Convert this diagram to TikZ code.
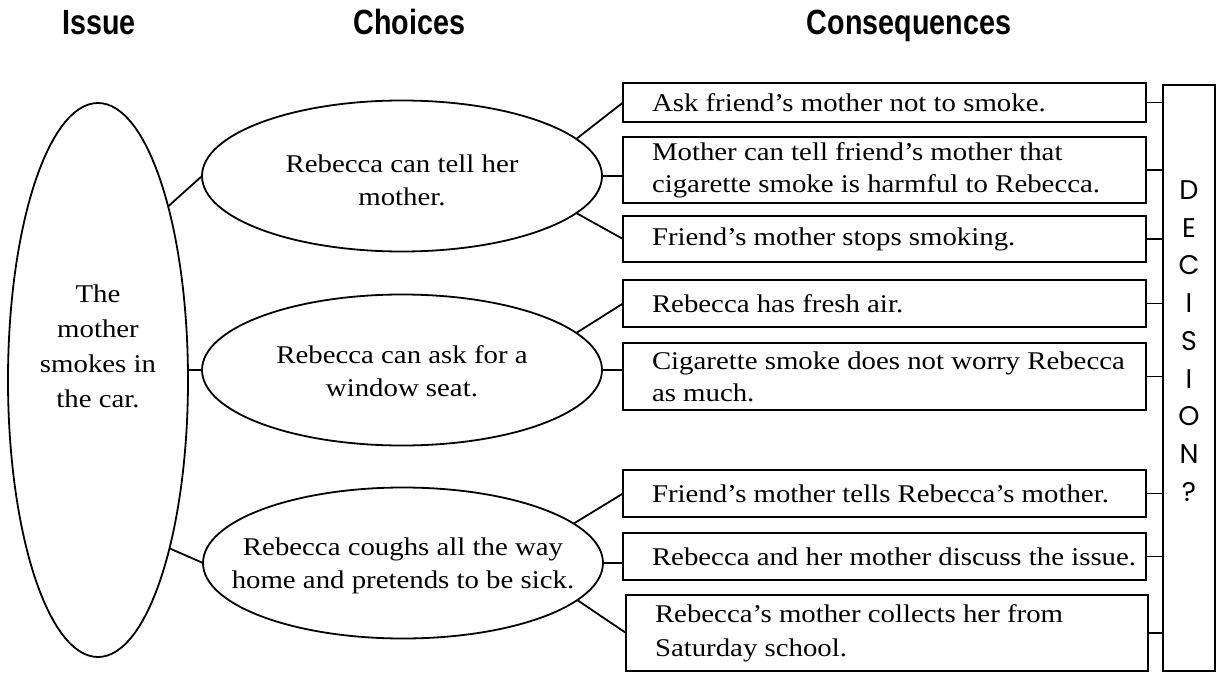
\documentclass[tikz,border=0pt]{standalone}
\usepackage{fontspec}
\setmainfont[FakeStretch=1.13]{Liberation Serif}
\newfontfamily\hdrfont[FakeStretch=0.82]{Liberation Sans Bold}
\newfontfamily\decfont{Poppins}
\usetikzlibrary{shapes.geometric}
\begin{document}
\begin{tikzpicture}[x=1pt,y=-1pt,
  every node/.style={inner sep=0pt, outer sep=0pt},
  issueell/.style={ellipse, draw, line width=1.8pt, minimum width=180pt, minimum height=554pt},
  choiceell/.style={ellipse, draw, line width=1.8pt, minimum width=400pt, minimum height=151pt},
  cbox/.style={rectangle, draw, line width=2.2pt, minimum width=523pt},
  dbox/.style={rectangle, draw, line width=2pt, minimum width=52pt, minimum height=586pt},
  body/.style={font=\fontsize{25.5}{33}\selectfont, align=center},
  ctext/.style={font=\fontsize{25.5}{32}\selectfont, align=left, anchor=west},
  hdr/.style={font=\hdrfont\fontsize{35}{40}\selectfont, anchor=base},
  link/.style={line width=1.8pt},
]
\useasboundingbox (0,0) rectangle (1217,674);

% headers
\node[hdr] (hIssue) at (99,35) {Issue};
\node[hdr] (hChoices) at (409.5,35) {Choices};
\node[hdr] (hCons) at (909,35) {Consequences};

% issue
\node[issueell] (iss) at (98,380) {};
\node[body, font=\fontsize{25.5}{35}\selectfont] (isst) at (98,346) {The\\mother\\smokes in\\the car.};

% choices
\node[choiceell] (c1) at (402,176) {};
\node[body] (c1t) at (402,180) {Rebecca can tell her\\mother.};
\node[choiceell] (c2) at (402,370) {};
\node[body] (c2t) at (402,371) {Rebecca can ask for a\\window seat.};
\node[choiceell] (c3) at (403,563) {};
\node[body] (c3t) at (403,566) {Rebecca coughs all the way\\home and pretends to be sick.};

% consequences
\node[cbox, minimum height=39pt] (b1) at (884.5,102.5) {};
\node[cbox, minimum height=66pt] (b2) at (884.5,170) {};
\node[cbox, minimum height=46pt] (b3) at (884.5,239) {};
\node[cbox, minimum height=47pt] (b4) at (884.5,303.5) {};
\node[cbox, minimum height=67pt] (b5) at (884.5,376.5) {};
\node[cbox, minimum height=47pt] (b6) at (884.5,493.5) {};
\node[cbox, minimum height=47pt] (b7) at (884.5,556.5) {};
\node[cbox, minimum width=522pt, minimum height=76pt] (b8) at (887,633) {};

\node[ctext] (b1t) at ([xshift=29pt]b1.west) {Ask friend’s mother not to smoke.};
\node[ctext] (b2t) at ([xshift=29pt]b2.west) {Mother can tell friend’s mother that\\cigarette smoke is harmful to Rebecca.};
\node[ctext] (b3t) at ([xshift=29pt]b3.west) {Friend’s mother stops smoking.};
\node[ctext] (b4t) at ([xshift=29pt]b4.west) {Rebecca has fresh air.};
\node[ctext] (b5t) at ([xshift=29pt]b5.west) {Cigarette smoke does not worry Rebecca\\as much.};
\node[ctext] (b6t) at ([xshift=29pt]b6.west) {Friend’s mother tells Rebecca’s mother.};
\node[ctext] (b7t) at ([xshift=29pt]b7.west) {Rebecca and her mother discuss the issue.};
\node[ctext, font=\fontsize{25.5}{34}\selectfont] (b8t) at ([xshift=29pt]b8.west) {Rebecca’s mother collects her from\\Saturday school.};

% decision
\node[dbox] (dec) at (1189,378) {};
\node[font=\decfont\fontsize{27}{37.75}\selectfont, align=center] (dect) at (1189,341) {D\\E\\C\\I\\S\\I\\O\\N\\?};

% links issue -> choices
\draw[link] (iss.68.5) -- (c1.west);
\draw[link] (c2.west) -- (c2.west -| iss.east);
\draw[link] (iss.-67.6) -- (c3.west);

% links choices -> consequences
\draw[link] (c1.12) -- (b1.west);
\draw[link] (c1.east) -- (c1.east -| b2.west);
\draw[link] (c1.-12) -- (b3.west);
\draw[link] (c2.12.5) -- (b4.west);
\draw[link] (c2.east) -- (c2.east -| b5.west);
\draw[link] (c3.13) -- (b6.west);
\draw[link] (c3.east) -- (c3.east -| b7.west);
\draw[link] (c3.-12.5) -- (b8.west);

% links consequences -> decision
\draw[link] (b1.east) -- (b1.east -| dec.west);
\draw[link] (b2.east) -- (b2.east -| dec.west);
\draw[link] (b3.east) -- (b3.east -| dec.west);
\draw[link] (b4.east) -- (b4.east -| dec.west);
\draw[link] (b5.east) -- (b5.east -| dec.west);
\draw[link] (b6.east) -- (b6.east -| dec.west);
\draw[link] (b7.east) -- (b7.east -| dec.west);
\draw[link] (b8.east) -- (b8.east -| dec.west);
\end{tikzpicture}
\end{document}
